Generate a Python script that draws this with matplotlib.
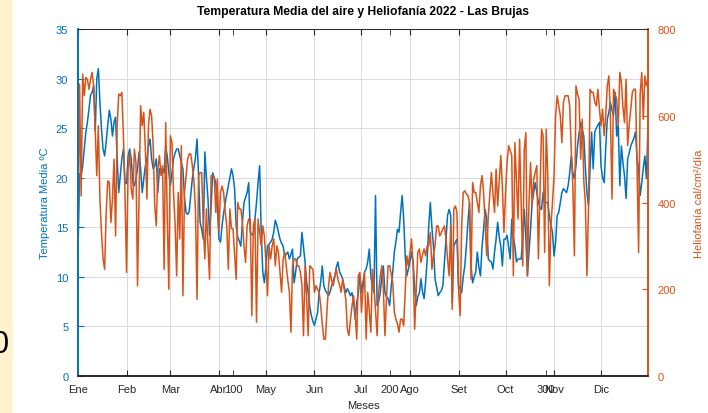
import numpy as np
import matplotlib.pyplot as plt
from matplotlib.patches import Rectangle

plt.rcParams['font.family'] = ['Liberation Sans', 'DejaVu Sans']

meses = ["Ene", "Feb", "Mar", "Abr", "May", "Jun", "Jul", "Ago", "Set", "Oct", "Nov", "Dic"]
inicio_mes = [1, 32, 60, 91, 121, 152, 182, 213, 244, 274, 305, 335]
ticks_dia = [100, 200, 300]

# temperatura media diaria (ºC), un renglon por mes
temp_media = [
    12.5, 20.4, 20.2, 21.2, 22.9, 24.6, 25.6, 26.9, 28.3, 28.6, 29.3, 24.7, 30.0, 31.0, 27.6, 24.9,
    22.9, 22.2, 23.6, 25.3, 26.8, 25.9, 24.2, 25.6, 26.1, 21.9, 18.5, 20.2, 21.9, 22.9, 19.5,
    19.4, 22.2, 22.9, 21.9, 19.5, 19.2, 19.9, 20.9, 22.6, 20.9, 18.5, 19.9, 21.2, 21.9, 23.2, 23.9,
    21.9, 20.9, 21.2, 21.9, 18.5, 20.9, 20.9, 20.9, 20.5, 23.2, 22.2, 20.5,
    19.2, 20.5, 21.9, 22.5, 22.9, 22.9, 22.2, 21.5, 20.9, 18.0, 16.5, 16.3, 16.6, 18.2, 19.9, 21.0,
    22.0, 23.9, 20.2, 15.5, 14.8, 13.8, 22.6, 20.0, 17.9, 14.2, 17.0, 20.5, 20.0, 19.5, 17.0,
    13.8, 13.5, 15.2, 16.4, 17.5, 18.3, 19.2, 20.0, 20.9, 20.2, 18.9, 15.2, 14.0, 13.6, 13.1,
    15.5, 17.5, 18.0, 18.5, 19.5, 14.5, 14.3, 14.2, 15.8, 17.5, 19.5, 21.2, 14.5, 10.5, 9.4,
    11.0, 13.1, 13.3, 13.5, 13.8, 14.5, 15.7, 15.2, 14.5, 13.8, 13.4, 13.1, 12.1, 12.3, 12.5, 11.8,
    12.3, 12.8, 9.4, 10.5, 11.8, 12.0, 12.1, 14.5, 13.0, 11.5, 9.5, 8.4, 7.0, 6.1, 5.5,
    5.1, 5.8, 6.4, 8.4, 9.5, 11.1, 9.1, 8.6, 8.4, 8.1, 8.5, 9.1, 9.6, 10.1, 11.0,
    11.5, 10.5, 10.2, 9.8, 9.0, 8.4, 8.8, 8.5, 8.1, 8.4, 7.5, 5.7, 7.4, 8.4, 10.1,
    8.4, 9.5, 10.5, 10.8, 11.5, 12.8, 10.1, 9.0, 8.4, 18.2, 7.1, 7.5, 8.4, 10.0, 11.1, 8.4,
    8.0, 7.8, 7.1, 9.0, 10.5, 12.5, 13.5, 14.8, 14.5, 16.5, 18.2, 15.8, 12.0, 10.1, 10.8,
    11.5, 12.5, 11.5, 9.0, 7.1, 8.0, 8.4, 9.8, 8.5, 7.8, 9.5, 11.8, 15.2, 17.5, 15.0, 13.1,
    9.8, 9.0, 8.1, 8.4, 8.6, 9.1, 11.5, 13.8, 16.2, 16.8, 16.2, 7.4, 13.1, 13.5, 13.8,
    9.1, 8.8, 8.4, 10.0, 11.1, 13.1, 15.5, 17.5, 11.1, 9.4, 10.0, 10.5, 12.5, 11.0, 10.1,
    13.0, 14.8, 16.8, 15.8, 11.8, 11.6, 11.5, 10.8, 12.5, 13.8, 15.5, 14.0, 13.1, 11.1, 13.8,
    13.8, 14.2, 13.0, 11.8, 15.8, 14.0, 13.1, 11.5, 11.8, 11.8, 11.8, 14.0, 16.8, 13.8, 10.1, 12.5,
    14.8, 17.5, 18.5, 19.5, 18.5, 17.5, 17.0, 16.8, 18.5, 17.5, 17.5, 17.5, 16.2, 15.2, 14.5,
    12.1, 13.5, 16.2, 16.5, 17.5, 18.5, 18.9, 18.7, 18.5, 19.2, 20.5, 22.2, 20.5, 19.9, 21.2,
    23.2, 24.5, 25.6, 24.9, 24.2, 21.0, 18.5, 17.2, 21.0, 24.6, 20.9, 24.6, 25.0, 25.3, 25.6,
    21.2, 20.0, 19.5, 23.0, 25.9, 26.6, 27.6, 26.8, 26.3, 28.6, 24.2, 25.3, 19.2, 23.2, 21.5, 20.2,
    17.9, 21.9, 22.5, 23.2, 23.6, 24.0, 24.6, 22.0, 20.9, 18.2, 19.5, 21.0, 22.2, 19.9, 25.3,
]

# heliofania diaria (cal/cm2/dia), un renglon por mes
heliofania = [
    293, 673, 415, 696, 646, 688, 684, 661, 684, 700, 669, 569, 462, 577, 408, 331,
    270, 246, 377, 450, 446, 354, 408, 500, 323, 577, 650, 646, 654, 554, 423,
    239, 477, 515, 431, 408, 523, 492, 208, 423, 623, 577, 608, 523, 408,
    577, 615, 600, 531, 392, 346, 477, 508, 462, 485, 246, 584, 362, 200,
    554, 538, 423, 350, 231, 423, 316, 531, 185, 423, 460, 500, 512, 512, 485, 450,
    385, 177, 462, 469, 469, 346, 270, 385, 300, 223, 462, 462, 458, 377, 454,
    331, 423, 438, 423, 380, 346, 246, 385, 340, 339, 280, 223, 400, 385, 385,
    354, 300, 262, 346, 362, 362, 139, 346, 362, 124, 362, 330, 300, 346, 323,
    262, 185, 300, 270, 300, 316, 254, 300, 285, 240, 193, 270, 285, 254, 220, 193,
    101, 254, 270, 270, 254, 254, 239, 210, 93, 254, 180, 93, 254, 250, 246,
    193, 208, 200, 193, 162, 120, 85, 85, 150, 208, 239, 220, 208, 230, 246,
    223, 210, 193, 223, 200, 177, 108, 93, 130, 162, 185, 140, 85, 231, 239,
    147, 200, 239, 85, 193, 150, 101, 246, 208, 150, 93, 193, 230, 254, 200, 93,
    180, 254, 254, 235, 216, 147, 131, 120, 101, 131, 131, 116, 200, 277, 254,
    285, 316, 254, 108, 200, 285, 293, 262, 280, 293, 277, 300, 300, 331, 246, 280,
    300, 346, 346, 323, 330, 339, 346, 316, 270, 231, 346, 154, 385, 392, 377,
    200, 139, 346, 423, 427, 420, 415, 400, 223, 446, 423, 423, 400, 377, 438,
    462, 423, 350, 277, 369, 420, 469, 420, 377, 477, 392, 450, 508, 438, 331,
    420, 492, 531, 520, 508, 231, 538, 450, 362, 546, 400, 254, 523, 561, 231, 400,
    492, 392, 454, 470, 485, 270, 420, 569, 554, 285, 569, 462, 208, 346, 400,
    462, 600, 646, 623, 600, 538, 631, 646, 646, 646, 623, 520, 438, 277, 669,
    650, 638, 500, 592, 450, 400, 231, 385, 661, 654, 654, 631, 623, 661, 615,
    577, 615, 554, 600, 669, 692, 600, 408, 661, 650, 638, 577, 700, 677, 620, 584,
    684, 531, 580, 615, 654, 661, 661, 485, 285, 650, 700, 592, 692, 669, 684,
]

dias = np.arange(1, len(temp_media) + 1)

azul = "#0072BD"
naranja = "#D95319"
gris = "#262626"

fig = plt.figure(figsize=(7.08, 4.14), dpi=100)
fig.patches.append(Rectangle((0, 0), 13 / 708, 1, transform=fig.transFigure,
                             facecolor="#FFF2CC", edgecolor="none", zorder=0))
fig.text(9 / 708, 1 - 345 / 414, "0", ha="right", va="center", fontsize=22, color="black")

ax = fig.add_axes([78 / 708, 1 - 377 / 414, 570 / 708, 347 / 414])
ax.plot(dias, temp_media, color=azul, lw=1.1)
ax.set_xlim(1, 365)
ax.set_ylim(0, 35)
ax.set_yticks(range(0, 36, 5))
ax.set_xticks(inicio_mes)
ax.set_xticklabels(meses)
ax.set_xticks(ticks_dia, minor=True)
ax.set_xticklabels([str(t) for t in ticks_dia], minor=True)
ax.grid(True, which="major", color="#dadada", lw=0.7)
ax.tick_params(axis="x", which="both", direction="in", top=True, length=4,
               labelsize=8, colors=gris, pad=6)
ax.tick_params(axis="y", direction="in", length=4, labelsize=8, colors=azul, pad=7)
ax.set_xlabel("Meses", fontsize=8, color=gris, labelpad=4)
ax.set_ylabel("Temperatura Media ºC", fontsize=8, color=azul, labelpad=4)
ax.set_title("Temperatura Media del aire y Heliofanía 2022 - Las Brujas",
             fontsize=8.7, fontweight="bold", color="black", pad=11)

ax2 = ax.twinx()
ax2.plot(dias, heliofania, color=naranja, lw=1.1)
ax2.set_ylim(0, 800)
ax2.set_yticks(range(0, 801, 200))
ax2.tick_params(axis="y", direction="in", length=4, labelsize=8, colors=naranja, pad=7)
ax2.set_ylabel("Heliofanía cal/cm²/día", fontsize=8, color=naranja, labelpad=13)

for a in (ax, ax2):
    a.spines["left"].set_color(azul)
    a.spines["right"].set_color(naranja)
    a.spines["top"].set_color(gris)
    a.spines["bottom"].set_color(gris)
    for s in a.spines.values():
        s.set_linewidth(1.2)
ax.spines["top"].set_linewidth(0.6)
ax2.spines["top"].set_linewidth(0.6)

fig.savefig("out.png", dpi=100)
